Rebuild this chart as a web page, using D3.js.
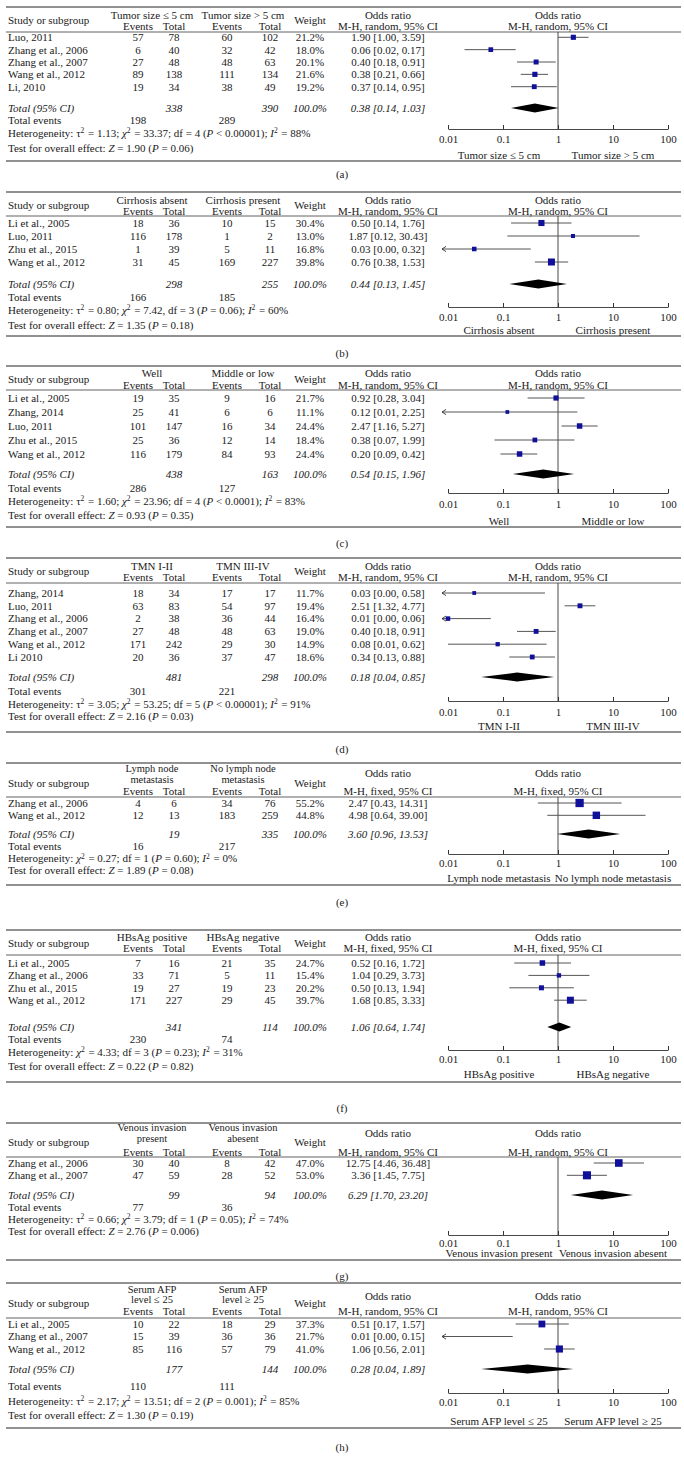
<!DOCTYPE html>
<html><head><meta charset="utf-8">
<script src="https://cdn.jsdelivr.net/npm/d3@7"></script>
<style>
body{margin:0;background:#fff}
svg text{font-family:"Liberation Serif","Times New Roman",serif;font-size:11px;fill:#1a1a1a}
</style></head>
<body><svg id="chart" width="684" height="1465"></svg>
<script>
// ---------------- DATA ----------------
const panelLabels = ["(a)","(b)","(c)","(d)","(e)","(f)","(g)","(h)"];
const group1Headers = [["Tumor size ≤ 5 cm"],["Cirrhosis absent"],["Well"],["TMN I-II"],["Lymph node","metastasis"],["HBsAg positive"],["Venous invasion","present"],["Serum AFP","level ≤ 25"]];
const group2Headers = [["Tumor size > 5 cm"],["Cirrhosis present"],["Middle or low"],["TMN III-IV"],["No lymph node","metastasis"],["HBsAg negative"],["Venous invasion","abesent"],["Serum AFP","level ≥ 25"]];
const methods = ["random","random","random","random","fixed","fixed","random","random"];
const sideLeft = ["Tumor size ≤ 5 cm","Cirrhosis absent","Well","TMN I-II","Lymph node metastasis","HBsAg positive","Venous invasion present","Serum AFP level ≤ 25"];
const sideRight = ["Tumor size > 5 cm","Cirrhosis present","Middle or low","TMN III-IV","No lymph node metastasis","HBsAg negative","Venous invasion abesent","Serum AFP level ≥ 25"];
const axisTicks = [0.01, 0.1, 1, 10, 100];

// rows: [study, events1, total1, events2, total2, weight%, OR, lower, upper, arrowLeft, showSquare]
const rowsA = [
  ["Luo, 2011",57,78,60,102,21.2,1.90,1.00,3.59,false,true],
  ["Zhang et al., 2006",6,40,32,42,18.0,0.06,0.02,0.17,false,true],
  ["Zhang et al., 2007",27,48,48,63,20.1,0.40,0.18,0.91,false,true],
  ["Wang et al., 2012",89,138,111,134,21.6,0.38,0.21,0.66,false,true],
  ["Li, 2010",19,34,38,49,19.2,0.37,0.14,0.95,false,true]];
const rowsB = [
  ["Li et al., 2005",18,36,10,15,30.4,0.50,0.14,1.76,false,true],
  ["Luo, 2011",116,178,1,2,13.0,1.87,0.12,30.43,false,true],
  ["Zhu et al., 2015",1,39,5,11,16.8,0.03,0.00,0.32,true,true],
  ["Wang et al., 2012",31,45,169,227,39.8,0.76,0.38,1.53,false,true]];
const rowsC = [
  ["Li et al., 2005",19,35,9,16,21.7,0.92,0.28,3.04,false,true],
  ["Zhang, 2014",25,41,6,6,11.1,0.12,0.01,2.25,true,true],
  ["Luo, 2011",101,147,16,34,24.4,2.47,1.16,5.27,false,true],
  ["Zhu et al., 2015",25,36,12,14,18.4,0.38,0.07,1.99,false,true],
  ["Wang et al., 2012",116,179,84,93,24.4,0.20,0.09,0.42,false,true]];
const rowsD = [
  ["Zhang, 2014",18,34,17,17,11.7,0.03,0.00,0.58,true,true],
  ["Luo, 2011",63,83,54,97,19.4,2.51,1.32,4.77,false,true],
  ["Zhang et al., 2006",2,38,36,44,16.4,0.01,0.00,0.06,true,true],
  ["Zhang et al., 2007",27,48,48,63,19.0,0.40,0.18,0.91,false,true],
  ["Wang et al., 2012",171,242,29,30,14.9,0.08,0.01,0.62,false,true],
  ["Li 2010",20,36,37,47,18.6,0.34,0.13,0.88,false,true]];
const rowsE = [
  ["Zhang et al., 2006",4,6,34,76,55.2,2.47,0.43,14.31,false,true],
  ["Wang et al., 2012",12,13,183,259,44.8,4.98,0.64,39.00,false,true]];
const rowsF = [
  ["Li et al., 2005",7,16,21,35,24.7,0.52,0.16,1.72,false,true],
  ["Zhang et al., 2006",33,71,5,11,15.4,1.04,0.29,3.73,false,true],
  ["Zhu et al., 2015",19,27,19,23,20.2,0.50,0.13,1.94,false,true],
  ["Wang et al., 2012",171,227,29,45,39.7,1.68,0.85,3.33,false,true]];
const rowsG = [
  ["Zhang et al., 2006",30,40,8,42,47.0,12.75,4.46,36.48,false,true],
  ["Zhang et al., 2007",47,59,28,52,53.0,3.36,1.45,7.75,false,true]];
const rowsH = [
  ["Li et al., 2005",10,22,18,29,37.3,0.51,0.17,1.57,false,true],
  ["Zhang et al., 2007",15,39,36,36,21.7,0.01,0.00,0.15,true,false],
  ["Wang et al., 2012",85,116,57,79,41.0,1.06,0.56,2.01,false,true]];
const allRows = [rowsA,rowsB,rowsC,rowsD,rowsE,rowsF,rowsG,rowsH];

// totals: [total1, total2, OR, lower, upper, events1, events2]
const totalsRow = [
  [338,390,0.38,0.14,1.03,198,289],
  [298,255,0.44,0.13,1.45,166,185],
  [438,163,0.54,0.15,1.96,286,127],
  [481,298,0.18,0.04,0.85,301,221],
  [19,335,3.60,0.96,13.53,16,217],
  [341,114,1.06,0.64,1.74,230,74],
  [99,94,6.29,1.70,23.20,77,36],
  [177,144,0.28,0.04,1.89,110,111]];
const hetTau = ["1.13","0.80","1.60","3.05",null,null,"0.66","2.17"];
const hetChi = ["33.37","7.42","23.96","53.25","0.27","4.33","3.79","13.51"];
const hetSep = [";",",",";",";",";",";",";",";"];
const hetDf = [4,3,4,5,1,3,1,2];
const hetP = ["< 0.00001","= 0.06","< 0.0001","< 0.00001","= 0.60","= 0.23","= 0.05","= 0.001"];
const hetI2 = [88,60,83,91,0,31,74,85];
const testZ = ["1.90","1.35","0.93","2.16","1.89","0.22","2.76","1.30"];
const testP = ["0.06","0.18","0.35","0.03","0.08","0.82","0.006","0.19"];

// ---------------- LAYOUT ----------------
const layouts = [
 {top:7,   h1:[15],          orh:15,   mid:20,   h2:26,   ul:32,   r0:37.3, rs:12.35, total:108, totEv:120, het:133, test:148.5, axis:129, ticks:139, side:155, bottom:161, label:174},
 {top:192, h1:[200],         orh:200,  mid:205,  h2:211,  ul:216,  r0:223,  rs:13,    total:284, totEv:297, het:310, test:325, axis:307, ticks:317, side:330, bottom:336, label:353},
 {top:366, h1:[373],         orh:373,  mid:379,  h2:385,  ul:390,  r0:398,  rs:14,    total:474, totEv:488, het:501, test:515, axis:493, ticks:504, side:521, bottom:527, label:543},
 {top:558, h1:[566],         orh:566,  mid:571,  h2:577,  ul:583,  r0:593,  rs:12.8,  total:677, totEv:691, het:704, test:716.5, axis:701, ticks:712, side:726, bottom:732, label:749},
 {top:763, h1:[768.5,779],   orh:773,  mid:783,  h2:791,  ul:797,  r0:803,  rs:12.3,  total:834, totEv:846, het:858.5, test:870.5, axis:854, ticks:863, side:878, bottom:885, label:902},
 {top:930, h1:[937],         orh:937,  mid:943,  h2:948,  ul:955,  r0:963,  rs:12.4,  total:1027,totEv:1039,het:1052,test:1066,axis:1050,ticks:1059,side:1074,bottom:1082,label:1108},
 {top:1123,h1:[1127.5,1138], orh:1133, mid:1142, h2:1152, ul:1157, r0:1163, rs:12.3,  total:1195,totEv:1207,het:1219,test:1231,axis:1235,ticks:1243,side:1253,bottom:1260,label:1276},
 {top:1283,h1:[1289,1299.5], orh:1296, mid:1303, h2:1311, ul:1318, r0:1324, rs:12.5,  total:1369,totEv:1386,het:1401,test:1415,axis:1393,ticks:1402,side:1421,bottom:1428,label:1447}
];
const col = {study:8, e1:138, n1:174, e2:227, n2:270, weight:310, ortext:388, g1:152, g2:243, left:6, right:681};

const svg = d3.select("#chart");
const x = d3.scaleLog().domain([0.01,100]).range([448,668]);
const sq = d3.scaleSqrt().domain([0,60]).range([0,8.6]);
const fmt2 = d3.format(".2f");

function txt(g, xx, yy, s, anchor, italic) {
  return g.append("text").attr("x", xx).attr("y", yy).attr("dy","0.35em")
    .attr("text-anchor", anchor || "start")
    .style("font-style", italic ? "italic" : null).text(s);
}
function rich(g, xx, yy, parts) {
  const t = g.append("text").attr("x", xx).attr("y", yy).attr("dy","0.35em");
  parts.forEach(p => {
    if (p.sup) {
      t.append("tspan").attr("dy", -3.5).style("font-size","7.5px").text(p.t);
      t.append("tspan").attr("dy", 3.5).text("\u200A");
    } else {
      t.append("tspan").style("font-style", p.i ? "italic" : null).text(p.t);
    }
  });
  return t;
}

allRows.forEach((rows, k) => {
  const L = layouts[k];
  const g = svg.append("g");
  const tot = totalsRow[k];
  // rules
  g.append("line").attr("x1",col.left).attr("x2",col.right).attr("y1",L.top).attr("y2",L.top).attr("stroke","#6d6d6d").attr("stroke-width",1.6);
  g.append("line").attr("x1",col.left).attr("x2",col.right).attr("y1",L.ul).attr("y2",L.ul).attr("stroke","#3a3a3a").attr("stroke-width",0.8);
  g.append("line").attr("x1",col.left).attr("x2",col.right).attr("y1",L.bottom).attr("y2",L.bottom).attr("stroke","#6d6d6d").attr("stroke-width",1.6);
  // headers
  txt(g, col.study, L.mid, "Study or subgroup");
  const two = group1Headers[k].length > 1;
  group1Headers[k].forEach((s,i) => txt(g, col.g1, L.h1[i], s, "middle").style("font-size", two ? "10.5px" : null));
  group2Headers[k].forEach((s,i) => txt(g, col.g2, L.h1[i], s, "middle").style("font-size", two ? "10.5px" : null));
  txt(g, col.e1, L.h2, "Events", "middle"); txt(g, col.n1, L.h2, "Total", "middle");
  txt(g, col.e2, L.h2, "Events", "middle"); txt(g, col.n2, L.h2, "Total", "middle");
  txt(g, col.weight, L.mid, "Weight", "middle");
  const mh = "M-H, " + methods[k] + ", 95% CI";
  txt(g, col.ortext, L.orh, "Odds ratio", "middle"); txt(g, col.ortext, L.h2, mh, "middle");
  txt(g, 558, L.orh, "Odds ratio", "middle"); txt(g, 558, L.h2, mh, "middle");

  // null line
  g.append("line").attr("x1",x(1)).attr("x2",x(1)).attr("y1",L.ul).attr("y2",L.axis).attr("stroke","#333").attr("stroke-width",0.9);

  rows.forEach((r, i) => {
    const y = L.r0 + i * L.rs;
    txt(g, col.study, y, r[0]);
    txt(g, col.e1, y, r[1], "middle"); txt(g, col.n1, y, r[2], "middle");
    txt(g, col.e2, y, r[3], "middle"); txt(g, col.n2, y, r[4], "middle");
    txt(g, col.weight, y, r[5].toFixed(1) + "%", "middle");
    txt(g, col.ortext, y, `${fmt2(r[6])} [${fmt2(r[7])}, ${fmt2(r[8])}]`, "middle");
    const lo = r[9] ? x(0.01) - 6 : x(r[7]);
    const hi = x(Math.min(r[8], 100));
    g.append("line").attr("x1",lo).attr("x2",hi).attr("y1",y).attr("y2",y).attr("stroke","#555").attr("stroke-width",1);
    if (r[9]) {
      g.append("path").attr("d",`M${lo+4},${y-2.6}L${lo},${y}L${lo+4},${y+2.6}`).attr("fill","none").attr("stroke","#333").attr("stroke-width",0.9);
    }
    if (r[10]) {
      const s = sq(r[5]);
      g.append("rect").attr("x", x(r[6]) - s/2).attr("y", y - s/2).attr("width", s).attr("height", s).attr("fill","#10109a");
    }
  });

  // total row
  txt(g, col.study, L.total, "Total (95% CI)", "start", true);
  txt(g, col.n1, L.total, tot[0], "middle", true);
  txt(g, col.n2, L.total, tot[1], "middle", true);
  txt(g, col.weight, L.total, "100.0%", "middle", true);
  txt(g, col.ortext, L.total, `${fmt2(tot[2])} [${fmt2(tot[3])}, ${fmt2(tot[4])}]`, "middle", true);
  g.append("path").attr("d", `M${x(tot[3])},${L.total}L${x(tot[2])},${L.total-4.4}L${x(tot[4])},${L.total}L${x(tot[2])},${L.total+4.4}Z`).attr("fill","#000");

  txt(g, col.study, L.totEv, "Total events");
  txt(g, col.e1, L.totEv, tot[5], "middle");
  txt(g, col.e2, L.totEv, tot[6], "middle");

  const parts = [{t:"Heterogeneity: "}];
  if (hetTau[k]) { parts.push({t:"τ"},{t:"2",sup:true},{t:` = ${hetTau[k]}; `}); }
  parts.push({t:"χ",i:true},{t:"2",sup:true},{t:` = ${hetChi[k]}${hetSep[k]} df = ${hetDf[k]} (`},{t:"P",i:true},{t:` ${hetP[k]}); `},{t:"I",i:true},{t:"2",sup:true},{t:` = ${hetI2[k]}%`});
  rich(g, col.study, L.het, parts);
  rich(g, col.study, L.test, [{t:"Test for overall effect: "},{t:"Z",i:true},{t:` = ${testZ[k]}  (`},{t:"P",i:true},{t:` = ${testP[k]})`}]);

  // axis
  const ax = g.append("g").attr("transform", `translate(0,${L.axis})`)
    .call(d3.axisBottom(x).tickValues(axisTicks).tickFormat(d => String(d)).tickSize(-4).tickSizeOuter(0).tickPadding(6));
  ax.select(".domain").attr("stroke","#333").attr("stroke-width",0.9);
  ax.selectAll(".tick line").attr("stroke","#333");
  ax.selectAll(".tick text").attr("font-family",null).attr("font-size",null).attr("fill",null).attr("dy",null).attr("y", L.ticks - L.axis).attr("dominant-baseline","central");
  txt(g, x(0.1) - 4, L.side, sideLeft[k], "middle");
  txt(g, x(10), L.side, sideRight[k], "middle");

  txt(g, 342, L.label, panelLabels[k], "middle");
});
</script></body></html>
